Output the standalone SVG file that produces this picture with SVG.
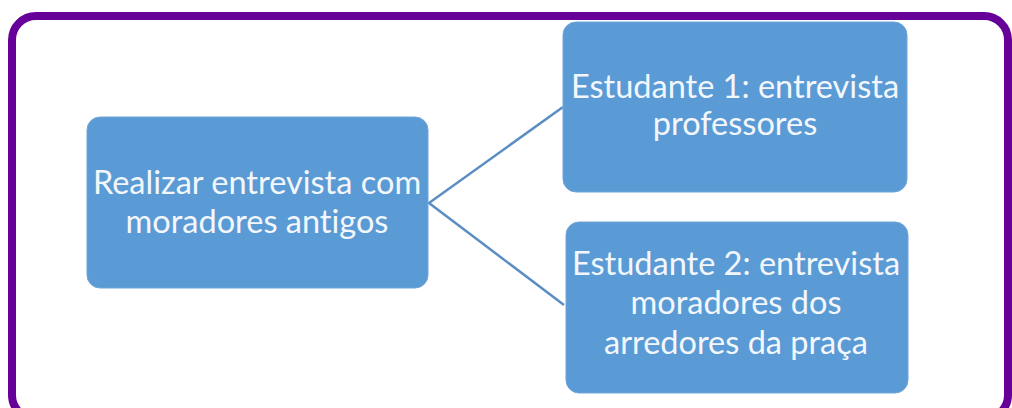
<svg xmlns="http://www.w3.org/2000/svg" width="1012" height="408" viewBox="0 0 1012 408">
<style>
.node{fill:#5B9BD5;stroke:#6FA6D9;stroke-width:1}
.t{font-family:Lato,"Liberation Sans",sans-serif;font-size:32.5px;fill:#F3F7FC;text-anchor:middle;font-variant-ligatures:none}
.c{stroke:#5B8EC2;stroke-width:2.5;fill:none}
</style>
<rect width="1012" height="408" fill="#FFFFFF"/>
<rect x="12" y="16" width="996" height="403" rx="24" ry="24" fill="none" stroke="#660099" stroke-width="8"/>
<g id="connectors">
<path class="c" d="M563,107 L429,203 L564,305"/>
</g>
<g id="node-main">
<rect class="node" x="87" y="117" width="341" height="171" rx="13"/>
<text class="t" x="257" y="194">Realizar entrevista com</text>
<text class="t" x="257" y="233">moradores antigos</text>
</g>
<g id="node-estudante1">
<rect class="node" x="563" y="22" width="344" height="170" rx="13"/>
<text class="t" x="735" y="98">Estudante 1: entrevista</text>
<text class="t" x="735" y="135">professores</text>
</g>
<g id="node-estudante2">
<rect class="node" x="566" y="222" width="342" height="171" rx="13"/>
<text class="t" x="736" y="275">Estudante 2: entrevista</text>
<text class="t" x="736" y="314">moradores dos</text>
<text class="t" x="736" y="354">arredores da praça</text>
</g>
</svg>
